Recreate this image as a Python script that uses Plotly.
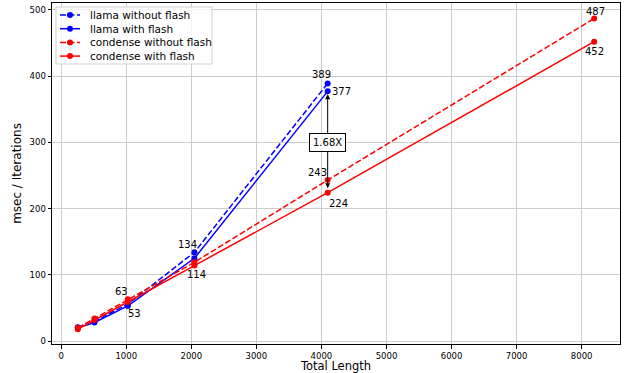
import plotly.graph_objects as go

llama_x = [256, 512, 1024, 2048, 4096]
llama_no_flash = [21, 30, 56, 134, 389]
llama_flash = [20, 28, 53, 125, 377]
condense_x = [256, 512, 1024, 2048, 4096, 8192]
condense_no_flash = [20, 34, 63, 119, 243, 487]
condense_flash = [18, 32, 59, 114, 224, 452]
x_ticks = [0, 1000, 2000, 3000, 4000, 5000, 6000, 7000, 8000]
y_ticks = [0, 100, 200, 300, 400, 500]

W, H = 629, 373
L, R, T, B = 52, 9, 3, 29
PW, PH = W - L - R, H - T - B

def px(x):
    return (x - L) / PW

def py(y):
    return (H - B - y) / PH

fig = go.Figure()
DASH = "6px,2.5px"
series = [
    ("llama without flash", llama_x, llama_no_flash, "blue", DASH),
    ("llama with flash", llama_x, llama_flash, "blue", "solid"),
    ("condense without flash", condense_x, condense_no_flash, "red", DASH),
    ("condense with flash", condense_x, condense_flash, "red", "solid"),
]
for name, xs, ys, c, d in series:
    fig.add_trace(go.Scatter(x=xs, y=ys, name=name, mode="lines+markers",
                             line=dict(color=c, width=1.5, dash=d),
                             marker=dict(color=c, size=6), showlegend=False))

font = dict(family="DejaVu Sans", size=10, color="black")
labels = [
    (4096, llama_no_flash[4], "389", -6, 9),
    (4096, llama_flash[4], "377", 14, 0),
    (2048, llama_no_flash[3], "134", -7, 8),
    (2048, condense_flash[3], "114", 2, -9),
    (1024, condense_no_flash[2], "63", -6, 8),
    (1024, llama_flash[2], "53", 7, -8),
    (4096, condense_no_flash[4], "243", -10, 8),
    (4096, condense_flash[4], "224", 11, -11),
    (8192, condense_no_flash[5], "487", 1, 7),
    (8192, condense_flash[5], "452", 0, -10),
]
for x, y, t, dx, dy in labels:
    fig.add_annotation(x=x, y=y, text=t, showarrow=False, font=font,
                       xshift=dx, yshift=dy)

# double-headed arrow between 224 and 377
fig.add_annotation(x=4096, y=llama_flash[4], ax=4096, ay=condense_flash[4],
                   xref="x", yref="y", axref="x", ayref="y", text="",
                   showarrow=True, arrowhead=2, startarrowhead=2, arrowside="end+start",
                   arrowsize=1, arrowwidth=1, arrowcolor="black",
                   standoff=3, startstandoff=3)
fig.add_annotation(x=4096, y=(llama_flash[4] + condense_flash[4]) / 2, text="1.68X",
                   showarrow=False, font=font, bgcolor="white",
                   bordercolor="black", borderwidth=1, borderpad=3)

# manual legend (matplotlib-like compact spacing)
fig.add_shape(type="rect", xref="paper", yref="paper",
              x0=px(56), x1=px(212), y0=py(64), y1=py(7),
              line=dict(color="#d0d0d0", width=1), fillcolor="rgba(255,255,255,0.8)", layer="above")
for i, (name, xs, ys, c, d) in enumerate(series):
    yc = 15 + i * 13.7
    fig.add_shape(type="line", xref="paper", yref="paper",
                  x0=px(60), x1=px(80), y0=py(yc), y1=py(yc),
                  line=dict(color=c, width=1.5, dash=d), layer="above")
    fig.add_shape(type="circle", xref="paper", yref="paper",
                  xsizemode="pixel", ysizemode="pixel",
                  xanchor=px(70), yanchor=py(yc), x0=-3, x1=3, y0=-3, y1=3,
                  fillcolor=c, line=dict(color=c, width=0), layer="above")
    fig.add_annotation(xref="paper", yref="paper", x=px(88), y=py(yc), text=name,
                       xanchor="left", yanchor="middle", showarrow=False,
                       font=dict(family="DejaVu Sans", size=10.5, color="black"))

axis_common = dict(showline=True, linecolor="black", linewidth=1, mirror=True,
                   ticks="outside", ticklen=3.5, tickcolor="black",
                   showgrid=True, gridcolor="#cccccc", gridwidth=0.8, automargin=False,
                   zeroline=False, tickfont=dict(family="DejaVu Sans", size=8.5, color="black"))
fig.update_xaxes(range=[-141, 8589], tickvals=x_ticks,
                 title=dict(text="Total Length", font=dict(family="DejaVu Sans", size=11.5, color="black"), standoff=5),
                 **axis_common)
fig.update_yaxes(range=[-4.4, 510.4], tickvals=y_ticks,
                 title=dict(text="msec / Iterations", font=dict(family="DejaVu Sans", size=12, color="black"), standoff=5),
                 **axis_common)
fig.update_layout(width=W, height=H, margin=dict(l=L, r=R, t=T, b=B),
                  plot_bgcolor="white", paper_bgcolor="white", showlegend=False)
fig.write_html("out.html", config={"displayModeBar": False},
               post_script="document.body.style.margin='0';document.body.style.overflow='hidden';")
